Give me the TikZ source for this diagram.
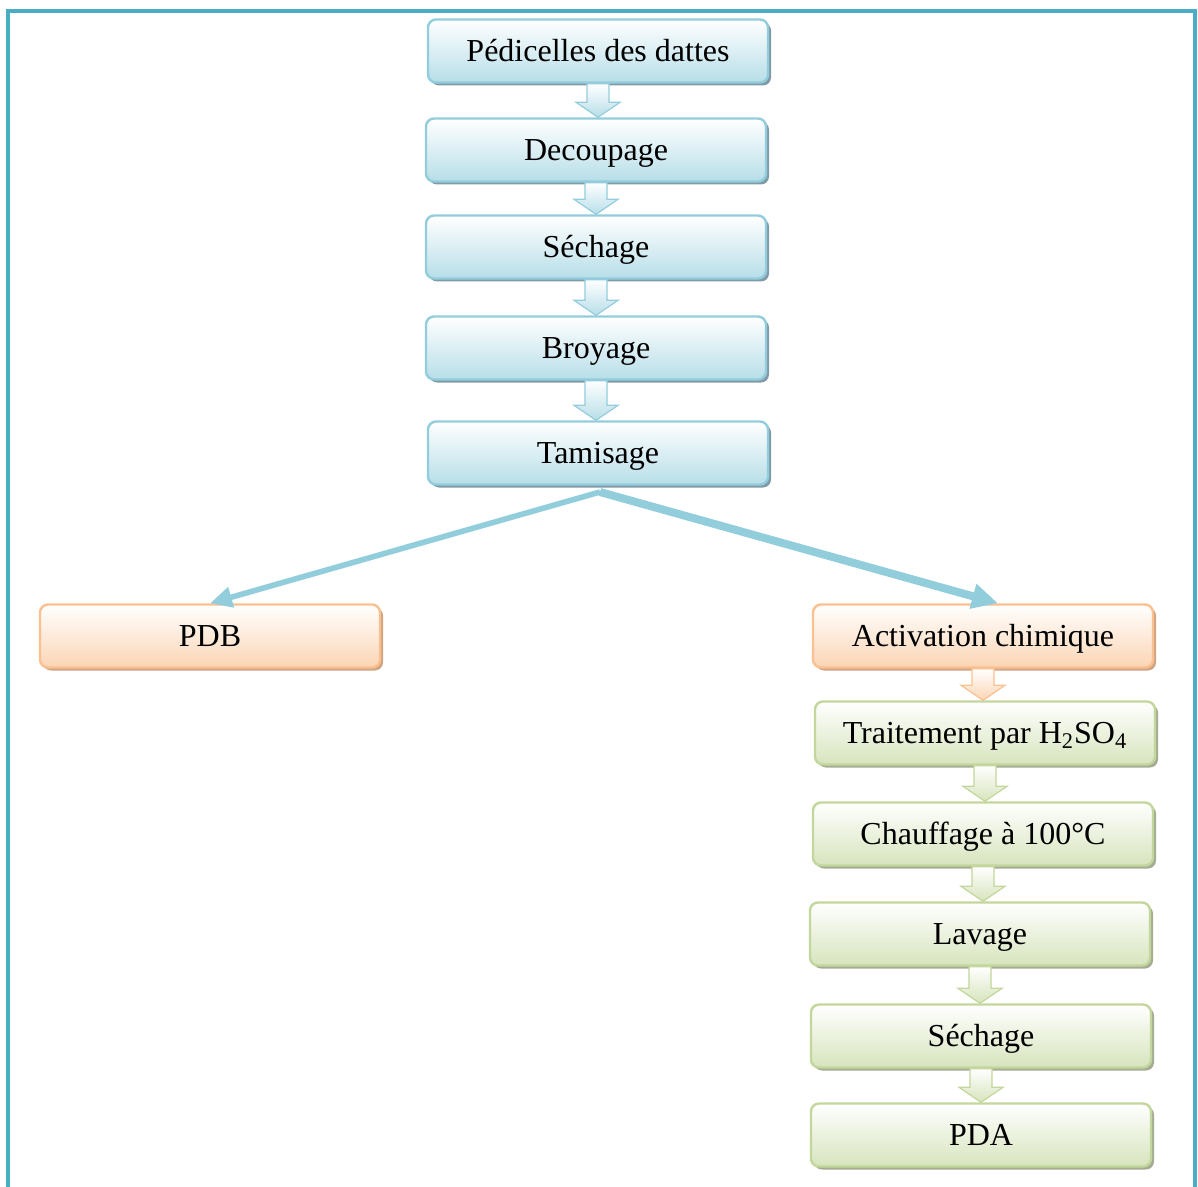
\documentclass[tikz,border=0pt]{standalone}
\usepackage{fontspec}
\setmainfont{Liberation Serif}
\usetikzlibrary{arrows.meta,calc,shadows}

\definecolor{cadre}{RGB}{75,172,198}
\definecolor{bleuBord}{RGB}{147,205,221}
\definecolor{bleuFond}{RGB}{183,222,232}
\definecolor{bleuOmbre}{RGB}{128,155,165}
\definecolor{orangeBord}{RGB}{250,192,144}
\definecolor{orangeFond}{RGB}{251,213,181}
\definecolor{orangeOmbre}{RGB}{210,165,130}
\definecolor{vertBord}{RGB}{195,214,155}
\definecolor{vertFond}{RGB}{215,228,189}
\definecolor{vertOmbre}{RGB}{165,172,148}
\definecolor{grosseFleche}{RGB}{146,205,220}

\tikzset{
  etape/.style={rectangle, rounded corners=4pt, minimum width=170pt,
    minimum height=31.5pt, inner sep=0pt, line width=1.2pt,
    font=\fontsize{16}{19}\selectfont, text height=10.6pt, text depth=0pt},
  bleu/.style={etape, draw=bleuBord, top color=white, bottom color=bleuFond,
    drop shadow={shadow xshift=1.5pt, shadow yshift=-1.5pt, fill=bleuOmbre, opacity=1}},
  orange/.style={etape, draw=orangeBord, top color=white, bottom color=orangeFond,
    drop shadow={shadow xshift=1.5pt, shadow yshift=-1.5pt, fill=orangeOmbre, opacity=1}},
  vert/.style={etape, draw=vertBord, top color=white, bottom color=vertFond,
    drop shadow={shadow xshift=1.5pt, shadow yshift=-1.5pt, fill=vertOmbre, opacity=1}},
  flecheBleue/.style={draw=bleuBord, line width=0.6pt, top color=white, bottom color=bleuFond},
  flecheOrange/.style={draw=orangeBord, line width=0.6pt, top color=white, bottom color=orangeFond},
  flecheVerte/.style={draw=vertBord, line width=0.6pt, top color=white, bottom color=vertFond},
  grosse/.style={draw=grosseFleche}
}

% fleche bloc entre deux etapes : style, depart, arrivee
\newcommand\flechebloc[3]{%
  \path[#1] let \p1=(#2.south), \p2=(#3.north) in
    (\x1-5.5pt,\y1) -- (\x1-5.5pt,\y2+7.5pt) -- (\x1-11pt,\y2+7.5pt) -- (\x1,\y2)
    -- (\x1+11pt,\y2+7.5pt) -- (\x1+5.5pt,\y2+7.5pt) -- (\x1+5.5pt,\y1) -- cycle;}

\begin{document}
\begin{tikzpicture}[x=0.5pt, y=-0.5pt]
    \useasboundingbox (0,0) rectangle (1198,1187);
    \draw[cadre, line width=2pt] (8,1187) -- (8,11) -- (1195,11) -- (1195,1187);

    % preparation
    \node[bleu] (pedic) at (598,51) {Pédicelles des dattes};
    \node[bleu] (decoup) at (596,150) {Decoupage};
    \node[bleu] (sech1) at (596,247) {Séchage};
    \node[bleu] (broy) at (596,348) {Broyage};
    \node[bleu] (tamis) at (598,453) {Tamisage};

    % deux branches
    \node[orange] (pdb) at (210,636) {PDB};
    \node[orange] (activ) at (983,636) {Activation chimique};
    \node[vert] (trait) at (985,733) {Traitement par H\textsubscript{2}SO\textsubscript{4}};
    \node[vert] (chauf) at (983,834) {Chauffage à 100°C};
    \node[vert] (lav) at (980,934) {Lavage};
    \node[vert] (sech2) at (981,1036) {Séchage};
    \node[vert] (pda) at (981,1135) {PDA};

    \flechebloc{flecheBleue}{pedic}{decoup}
    \flechebloc{flecheBleue}{decoup}{sech1}
    \flechebloc{flecheBleue}{sech1}{broy}
    \flechebloc{flecheBleue}{broy}{tamis}
    \flechebloc{flecheOrange}{activ}{trait}
    \flechebloc{flecheVerte}{trait}{chauf}
    \flechebloc{flecheVerte}{chauf}{lav}
    \flechebloc{flecheVerte}{lav}{sech2}
    \flechebloc{flecheVerte}{sech2}{pda}

    \coordinate (fourche) at (600,492);
    \draw[grosse, line width=2.8pt, -{Triangle[length=11pt, width=10pt]}] (fourche) -- (pdb.north);
    \draw[grosse, line width=4pt, -{Triangle[length=13pt, width=12pt]}] (fourche) -- ([xshift=7.5pt]activ.north);
\end{tikzpicture}
\end{document}
